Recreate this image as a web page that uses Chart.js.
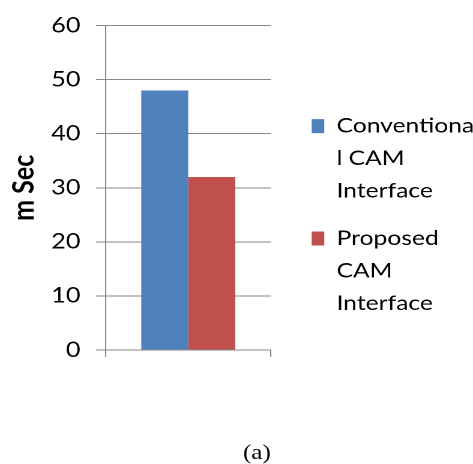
<!DOCTYPE html>
<html>
<head>
<meta charset="utf-8">
<script src="https://cdn.jsdelivr.net/npm/chart.js@4.4.1/dist/chart.umd.min.js"></script>
<style>
  html, body { margin: 0; padding: 0; background: #ffffff; overflow: hidden; }
  #frame {
    position: relative;
    width: 394px;
    height: 464px;
    transform: scaleX(1.2005);
    transform-origin: 0 0;
  }
  #plot { position: absolute; left: 0; top: 0; width: 394px; height: 464px; }
  #caption {
    position: absolute;
    left: 164px;
    top: 442px;
    width: 100px;
    text-align: center;
    font-family: "Liberation Serif", "Times New Roman", serif;
    font-size: 21px;
    line-height: 21px;
    color: #000000;
  }
</style>
</head>
<body>
<div id="frame">
  <div id="plot"><canvas id="chart"></canvas></div>
  <div id="caption">(a)</div>
</div>
<script>
// Response time of the two CAM interfaces (milliseconds)
const categories = [''];
const seriesNames = ['Conventional CAM Interface', 'Proposed CAM Interface'];
const legendLines = [
  ['Conventiona', 'l CAM', 'Interface'],
  ['Proposed', 'CAM', 'Interface']
];
const conventionalValues = [48];
const proposedValues = [32];
const yTicks = [0, 10, 20, 30, 40, 50, 60];
const yTitle = 'm Sec';

const seriesColors = ['#4F81BD', '#C0504D'];
const gridColor = '#888888';
const textColor = '#000000';
const sansFamily = 'Lato, "Open Sans", sans-serif';

const ctx = document.getElementById('chart').getContext('2d');
new Chart(ctx, {
  type: 'bar',
  data: {
    labels: categories,
    datasets: [
      {
        label: seriesNames[0],
        data: conventionalValues,
        backgroundColor: seriesColors[0],
        borderWidth: 0,
        categoryPercentage: 0.569,
        barPercentage: 1.0
      },
      {
        label: seriesNames[1],
        data: proposedValues,
        backgroundColor: seriesColors[1],
        borderWidth: 0,
        categoryPercentage: 0.569,
        barPercentage: 1.0
      }
    ]
  },
  options: {
    responsive: true,
    maintainAspectRatio: false,
    animation: false,
    devicePixelRatio: 2,
    layout: { padding: { top: 24.3, bottom: 46.7, left: 0, right: 0 } },
    plugins: {
      tooltip: { enabled: false },
      title: { display: false },
      legend: {
        display: true,
        position: 'right',
        align: 'center',
        maxWidth: 149.4,
        labels: {
          boxWidth: 10.5,
          boxHeight: 14,
          padding: 15,
          color: textColor,
          font: { family: sansFamily, size: 20.5, lineHeight: 1.585 },
          generateLabels: (chart) => chart.data.datasets.map((ds, i) => ({
            text: legendLines[i],
            fillStyle: ds.backgroundColor,
            strokeStyle: ds.backgroundColor,
            lineWidth: 0,
            hidden: false,
            datasetIndex: i
          }))
        }
      }
    },
    scales: {
      x: {
        type: 'category',
        offset: true,
        grid: {
          display: true,
          offset: true,
          drawOnChartArea: false,
          drawTicks: true,
          tickLength: 7,
          color: gridColor,
          lineWidth: 1
        },
        border: { display: true, color: gridColor, width: 1 },
        ticks: { display: false },
        afterFit: (scale) => { scale.height = 67.3; }
      },
      y: {
        type: 'linear',
        position: 'left',
        min: 0,
        max: 60,
        afterBuildTicks: (scale) => { scale.ticks = yTicks.map(v => ({ value: v })); },
        grid: {
          display: true,
          drawTicks: true,
          tickLength: 8,
          color: gridColor,
          lineWidth: 1
        },
        border: { display: true, color: gridColor, width: 1 },
        ticks: {
          padding: 13,
          color: textColor,
          font: { family: sansFamily, size: 21 }
        },
        title: {
          display: true,
          text: yTitle,
          color: textColor,
          font: { family: sansFamily, size: 25, weight: 'bold' },
          padding: { top: 5, bottom: 0 }
        },
        afterFit: (scale) => { scale.width = 88; }
      },
      legendGap: {
        type: 'linear',
        position: 'right',
        display: true,
        grid: { display: false },
        border: { display: false },
        ticks: { display: false },
        afterFit: (scale) => { scale.width = 19; }
      }
    }
  }
});
</script>
</body>
</html>
